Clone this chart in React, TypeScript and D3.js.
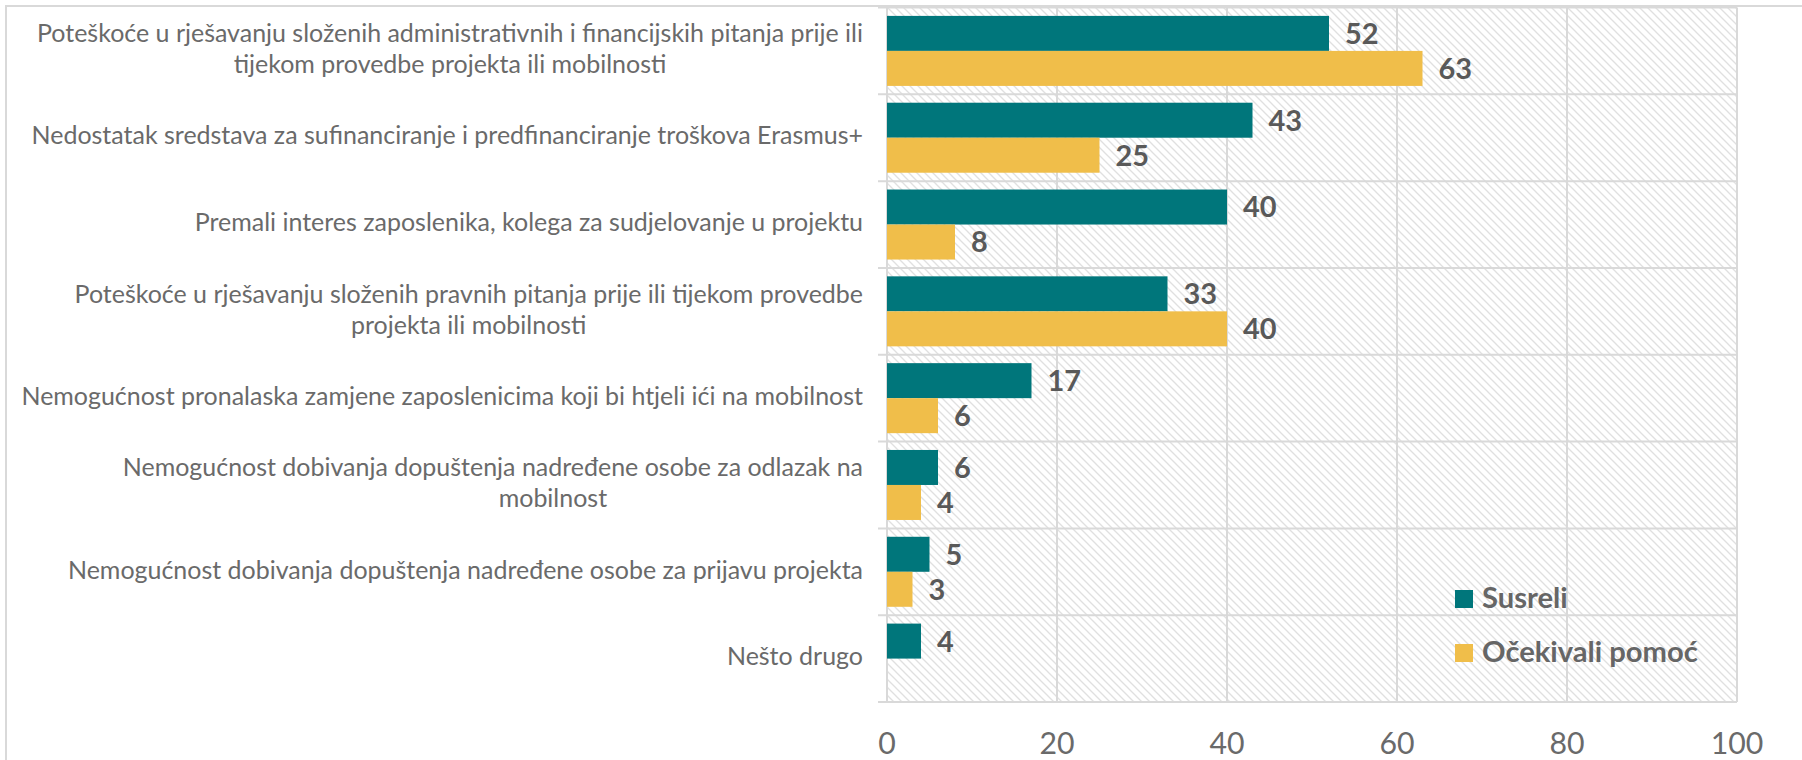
import React, { useMemo } from "react";
import * as d3 from "d3";

const categories = [
  "Poteškoće u rješavanju složenih administrativnih i financijskih pitanja prije ili\ntijekom provedbe projekta ili mobilnosti",
  "Nedostatak sredstava za sufinanciranje i predfinanciranje troškova Erasmus+",
  "Premali interes zaposlenika, kolega za sudjelovanje u projektu",
  "Poteškoće u rješavanju složenih pravnih pitanja prije ili tijekom provedbe\nprojekta ili mobilnosti",
  "Nemogućnost pronalaska zamjene zaposlenicima koji bi htjeli ići na mobilnost",
  "Nemogućnost dobivanja dopuštenja nadređene osobe za odlazak na\nmobilnost",
  "Nemogućnost dobivanja dopuštenja nadređene osobe za prijavu projekta",
  "Nešto drugo",
];
const susreli = [52, 43, 40, 33, 17, 6, 5, 4];
const ocekivali: (number | null)[] = [63, 25, 8, 40, 6, 4, 3, null];
const seriesNames = ["Susreli", "Očekivali pomoć"];
const seriesColors = ["#00767B", "#F0BE4A"];
const xTicks = [0, 20, 40, 60, 80, 100];

const FAMILY = "Lato, 'Open Sans', sans-serif";

function fit(text: string, weight: number, target: number): number {
  try {
    const c = document.createElement("canvas").getContext("2d");
    if (!c) return 24;
    c.font = `${weight} 100px Lato`;
    const w = c.measureText(text).width;
    return (100 * target) / w;
  } catch (e) {
    return 24;
  }
}

export default function App() {
  const W = 1802, H = 760;
  const left = 887, right = 1737, top = 7.5, bottom = 702;

  const sizes = useMemo(() => ({
    cat: fit(categories[1], 400, 832),
    tick: fit("100", 400, 47) * 1.12,
    val: fit("52", 700, 30) * 1.12,
    leg: fit(seriesNames[1], 700, 216),
  }), []);

  const x = d3.scaleLinear().domain([0, 100]).range([left, right]);
  const y = d3.scaleBand<string>().domain(categories).range([top, bottom]);
  const bw = y.bandwidth();
  const inner = d3.scaleBand<string>().domain(seriesNames).range([0, bw]).paddingInner(0).paddingOuter(0.24);

  const grid = "#d9d9d9";
  const catColor = "#6a6a6a";
  const valColor = "#595959";

  const boundaries = categories.map((c) => y(c)!).concat([bottom]);

  return (
    <svg width={W} height={H} style={{ position: "absolute", left: 0, top: 0, background: "#fff" }} xmlns="http://www.w3.org/2000/svg">
      <defs>
        <pattern id="hatch" width={8} height={8} patternUnits="userSpaceOnUse">
          <rect width={8} height={8} fill="#ffffff" />
          <path d="M-2,-2 L10,10 M-2,6 L2,10 M6,-2 L10,2" stroke="#e0e0e0" strokeWidth={1.3} />
        </pattern>
      </defs>
      <rect x={0} y={0} width={W} height={H} fill="#fff" />
      <rect x={6} y={6} width={W + 20} height={H + 20} fill="none" stroke={grid} strokeWidth={2} />

      <rect x={left} y={top} width={right - left} height={bottom - top} fill="url(#hatch)" />

      {xTicks.map((t) => (
        <line key={"v" + t} x1={x(t)} x2={x(t)} y1={top} y2={bottom} stroke={grid} strokeWidth={2} />
      ))}
      {boundaries.map((b, i) => (
        <line key={"h" + i} x1={left - 9} x2={right} y1={b} y2={b} stroke={grid} strokeWidth={2} />
      ))}

      {categories.map((c, i) => {
        const vals = [susreli[i], ocekivali[i]];
        return vals.map((v, s) => {
          if (v == null) return null;
          const yy = y(c)! + inner(seriesNames[s])!;
          const h = inner.bandwidth();
          return (
            <g key={c + s}>
              <rect x={x(0)} y={yy} width={x(v) - x(0)} height={h} fill={seriesColors[s]} />
              <text x={x(v) + 16} y={yy + h / 2 + sizes.val * 0.36} fontFamily={FAMILY} fontWeight={700}
                fontSize={sizes.val} fill={valColor}>{v}</text>
            </g>
          );
        });
      })}

      {categories.map((c, ci) => {
        const lines = c.split("\n");
        const cy = y(c)! + bw / 2;
        const lh = 31;
        const fs = sizes.cat;
        if (lines.length === 1) {
          return (
            <text key={c} x={863} y={cy + fs * 0.27} textAnchor="end" fontFamily={FAMILY} fontSize={fs} fill={catColor}>{c}</text>
          );
        }
        const c2 = document.createElement("canvas").getContext("2d");
        let maxW = 0;
        if (c2) {
          c2.font = `400 ${fs}px Lato`;
          lines.forEach((l) => { maxW = Math.max(maxW, c2.measureText(l).width); });
        }
        const center = 863 - maxW / 2;
        return (
          <g key={c}>
            {lines.map((l, k) => (
              <text key={k} x={ci === 5 && k === 1 ? center + 60 : center}
                y={cy + (k - (lines.length - 1) / 2) * lh + fs * 0.27} textAnchor="middle"
                fontFamily={FAMILY} fontSize={fs} fill={catColor}>{l}</text>
            ))}
          </g>
        );
      })}

      {xTicks.map((t) => (
        <text key={"t" + t} x={x(t)} y={754} textAnchor="middle" fontFamily={FAMILY} fontSize={sizes.tick} fill="#6a6a6a">{t}</text>
      ))}

      {seriesNames.map((n, i) => (
        <g key={n}>
          <rect x={1455} y={590 + i * 54} width={18} height={18} fill={seriesColors[i]} />
          <text x={1482} y={608 + i * 54} fontFamily={FAMILY} fontWeight={700} fontSize={sizes.leg} fill="#666666">{n}</text>
        </g>
      ))}
    </svg>
  );
}
